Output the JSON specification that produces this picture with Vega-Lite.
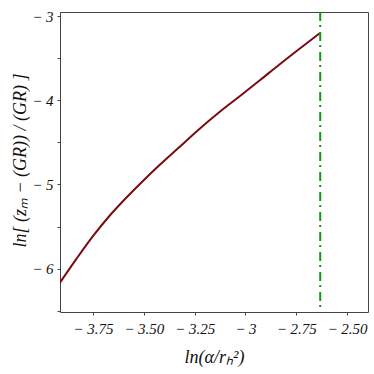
{
  "$schema": "https://vega.github.io/schema/vega-lite/v6.json",
  "width": 308,
  "height": 300,
  "autosize": {"type": "none"},
  "padding": {"left": 60, "top": 12, "right": 6, "bottom": 62},
  "background": "white",
  "config": {
    "view": {"stroke": "#444", "strokeWidth": 1},
    "axis": {
      "grid": false,
      "domain": false,
      "tickColor": "#444",
      "tickSize": 3,
      "labelFont": "Liberation Serif",
      "labelFontStyle": "italic",
      "labelFontSize": 15,
      "labelColor": "#111",
      "titleFont": "Liberation Serif",
      "titleFontStyle": "italic",
      "titleFontWeight": "normal",
      "titleFontSize": 18,
      "titleColor": "#111"
    }
  },
  "datasets": {
    "curve": [
      {"x": -3.914, "y": -6.174},
      {"x": -3.832, "y": -5.888},
      {"x": -3.750, "y": -5.615},
      {"x": -3.668, "y": -5.372},
      {"x": -3.585, "y": -5.155},
      {"x": -3.504, "y": -4.958},
      {"x": -3.421, "y": -4.766},
      {"x": -3.323, "y": -4.551},
      {"x": -3.225, "y": -4.337},
      {"x": -3.126, "y": -4.135},
      {"x": -3.028, "y": -3.950},
      {"x": -2.929, "y": -3.760},
      {"x": -2.831, "y": -3.569},
      {"x": -2.732, "y": -3.382},
      {"x": -2.633, "y": -3.198}
    ],
    "vline": [{"x": -2.632}]
  },
  "layer": [
    {
      "data": {"name": "curve"},
      "mark": {"type": "line", "color": "#7a0a12", "strokeWidth": 2, "interpolate": "monotone", "clip": true},
      "encoding": {
        "x": {
          "field": "x", "type": "quantitative",
          "scale": {"domain": [-3.912, -2.397], "nice": false, "zero": false},
          "axis": {
            "title": "ln(α/rₕ²)",
            "values": [-3.75, -3.5, -3.25, -3, -2.75, -2.5],
            "labelExpr": "datum.value == -3 ? '− 3' : '− ' + format(-datum.value, '.2f')",
            "labelPadding": 6,
            "titleX": 154,
            "titleY": 45,
            "titleAlign": "center",
            "titleBaseline": "middle"
          }
        },
        "y": {
          "field": "y", "type": "quantitative",
          "scale": {"domain": [-6.517, -2.948], "nice": false, "zero": false},
          "axis": {
            "title": "ln[ (zₘ − (GR)) / (GR) ]",
            "values": [-6.5, -6, -5.5, -5, -4.5, -4, -3.5, -3],
            "labelExpr": "datum.value % 1 == 0 ? '− ' + format(-datum.value, 'd') : ''",
            "labelPadding": 4,
            "titleX": -40,
            "titleY": 148,
            "titleAngle": -90,
            "titleAlign": "center",
            "titleBaseline": "middle"
          }
        }
      }
    },
    {
      "data": {"name": "vline"},
      "mark": {"type": "rule", "color": "#109a10", "strokeWidth": 2, "strokeDash": [9, 4, 2, 5]},
      "encoding": {
        "x": {"field": "x", "type": "quantitative"}
      }
    }
  ]
}
